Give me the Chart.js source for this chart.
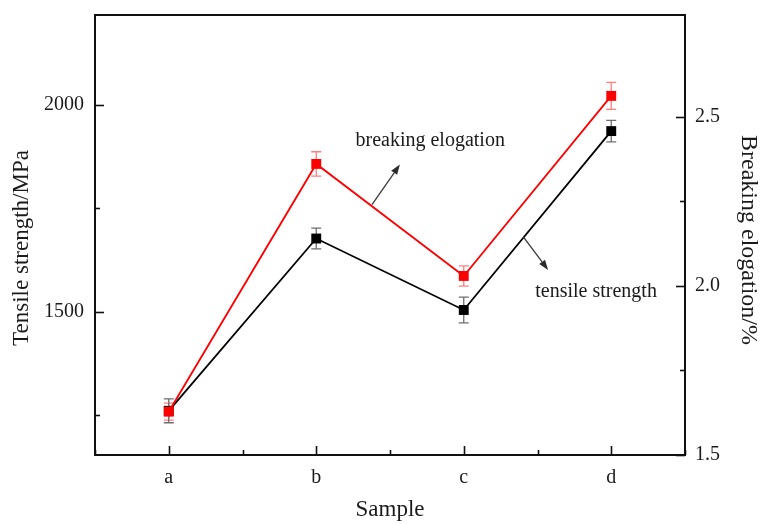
<!DOCTYPE html>
<html>
<head>
<meta charset="utf-8">
<script src="https://cdn.jsdelivr.net/npm/chart.js@4/dist/chart.umd.min.js"></script>
<style>
  html, body { margin: 0; padding: 0; background: #ffffff; }
  #wrap { width: 761px; height: 524px; }
</style>
</head>
<body>
<div id="wrap"><canvas id="c" width="761" height="524"></canvas></div>
<script>
// Samples and measured properties
const samples = ['a', 'b', 'c', 'd'];
const tensileStrength = [1260, 1677, 1504, 1937];      // MPa
const tensileError = [29, 25, 31, 26];
const breakingElongation = [1.628, 2.360, 2.029, 2.561]; // %
const elongationError = [0.025, 0.036, 0.030, 0.040];

// Axis ranges and tick steps
const strengthRange = [1153, 2218];
const strengthMajor = 500, strengthMinor = 250;
const elongationRange = [1.5, 2.8];
const elongationMajor = 0.5, elongationMinor = 0.25;

// Callout labels with their arrows (in data units of the given axis)
const callouts = [
  { text: 'breaking elogation', axis: 'y2', at: [1.266, 2.429], from: [1.378, 2.240], to: [1.567, 2.358] },
  { text: 'tensile strength',   axis: 'y',  at: [2.485, 1548],  from: [2.404, 1681],  to: [2.572, 1601] }
];

const SERIF = '"Liberation Serif", "Times New Roman", serif';
const TEXT = '#1a1a1a';

const isMultiple = (v, step) => Math.abs(v / step - Math.round(v / step)) < 1e-6;

// Vertical error bars with caps, drawn behind the markers
const errorBars = {
  id: 'errorBars',
  beforeDatasetsDraw(chart) {
    const ctx = chart.ctx;
    const xs = chart.scales.x;
    chart.data.datasets.forEach(ds => {
      const ys = chart.scales[ds.yAxisID];
      ctx.save();
      ctx.strokeStyle = ds.errorColor;
      ctx.lineWidth = 1.3;
      ds.data.forEach((p, i) => {
        const e = ds.errors[i];
        const x = xs.getPixelForValue(p.x);
        const yt = ys.getPixelForValue(p.y + e);
        const yb = ys.getPixelForValue(p.y - e);
        ctx.beginPath();
        ctx.moveTo(x, yt); ctx.lineTo(x, yb);
        ctx.moveTo(x - 5, yt); ctx.lineTo(x + 5, yt);
        ctx.moveTo(x - 5, yb); ctx.lineTo(x + 5, yb);
        ctx.stroke();
      });
      ctx.restore();
    });
  }
};

// Closed frame with inward tick marks on the bottom, left and right axes
const frameTicks = {
  id: 'frameTicks',
  afterDraw(chart) {
    const { ctx, chartArea: a } = chart;
    const { x, y, y2 } = chart.scales;
    ctx.save();
    ctx.strokeStyle = '#111';
    ctx.lineWidth = 1.6;
    x.ticks.forEach(t => {
      if (!isMultiple(t.value, 0.5)) return;
      const px = Math.round(x.getPixelForValue(t.value)) + 0.5;
      const len = Number.isInteger(t.value) ? 9 : 5;
      ctx.beginPath(); ctx.moveTo(px, a.bottom); ctx.lineTo(px, a.bottom - len); ctx.stroke();
    });
    y.ticks.forEach(t => {
      if (!isMultiple(t.value, strengthMinor)) return;
      const py = Math.round(y.getPixelForValue(t.value)) + 0.5;
      const len = isMultiple(t.value, strengthMajor) ? 9 : 5;
      ctx.beginPath(); ctx.moveTo(a.left, py); ctx.lineTo(a.left + len, py); ctx.stroke();
    });
    y2.ticks.forEach(t => {
      if (!isMultiple(t.value, elongationMinor)) return;
      const py = Math.round(y2.getPixelForValue(t.value)) + 0.5;
      const len = isMultiple(t.value, elongationMajor) ? 9 : 5;
      ctx.beginPath(); ctx.moveTo(a.right, py); ctx.lineTo(a.right - len, py); ctx.stroke();
    });
    ctx.lineWidth = 2;
    ctx.strokeRect(a.left, a.top, a.right - a.left, a.bottom - a.top);
    ctx.restore();
  }
};

// Rotated titles for the two value axes, set a little below the plot's middle
const sideTitles = {
  id: 'sideTitles',
  afterDraw(chart) {
    const { ctx, chartArea: a, width } = chart;
    const mid = (a.top + a.bottom) / 2;
    ctx.save();
    ctx.fillStyle = TEXT;
    ctx.textAlign = 'center';
    ctx.textBaseline = 'middle';
    ctx.font = '23px ' + SERIF;
    ctx.translate(22, mid + 13);
    ctx.rotate(-Math.PI / 2);
    ctx.fillText('Tensile strength/MPa', 0, 0);
    ctx.restore();
    ctx.save();
    ctx.fillStyle = TEXT;
    ctx.textAlign = 'center';
    ctx.textBaseline = 'middle';
    ctx.font = '24px ' + SERIF;
    ctx.translate(width - 13, mid + 5);
    ctx.rotate(Math.PI / 2);
    ctx.fillText('Breaking elogation/%', 0, 0);
    ctx.restore();
  }
};

// Callout text and arrows
const calloutPlugin = {
  id: 'callouts',
  afterDatasetsDraw(chart) {
    const ctx = chart.ctx;
    const xs = chart.scales.x;
    callouts.forEach(c => {
      const ys = chart.scales[c.axis];
      const fx = xs.getPixelForValue(c.from[0]), fy = ys.getPixelForValue(c.from[1]);
      const tx = xs.getPixelForValue(c.to[0]),   ty = ys.getPixelForValue(c.to[1]);
      const ang = Math.atan2(ty - fy, tx - fx);
      const head = 10, half = 3.6;
      ctx.save();
      ctx.strokeStyle = '#3a3a3a';
      ctx.fillStyle = '#2a2a2a';
      ctx.lineWidth = 1.3;
      ctx.beginPath();
      ctx.moveTo(fx, fy);
      ctx.lineTo(tx - head * Math.cos(ang), ty - head * Math.sin(ang));
      ctx.stroke();
      ctx.beginPath();
      ctx.moveTo(tx, ty);
      ctx.lineTo(tx - head * Math.cos(ang) + half * Math.sin(ang), ty - head * Math.sin(ang) - half * Math.cos(ang));
      ctx.lineTo(tx - head * Math.cos(ang) - half * Math.sin(ang), ty - head * Math.sin(ang) + half * Math.cos(ang));
      ctx.closePath();
      ctx.fill();
      ctx.fillStyle = TEXT;
      ctx.font = '20px ' + SERIF;
      ctx.textAlign = 'left';
      ctx.textBaseline = 'middle';
      ctx.fillText(c.text, xs.getPixelForValue(c.at[0]), ys.getPixelForValue(c.at[1]));
      ctx.restore();
    });
  }
};

const toPoints = vals => vals.map((v, i) => ({ x: i, y: v }));

// Fix an axis box size and drop the extra room reserved for end labels
const fixedVertical = w => s => { s.width = w; s.paddingTop = 0; s.paddingBottom = 0; };

new Chart(document.getElementById('c'), {
  type: 'line',
  data: {
    datasets: [
      {
        label: 'breaking elogation',
        data: toPoints(breakingElongation),
        errors: elongationError,
        errorColor: '#ff7f7f',
        yAxisID: 'y2',
        borderColor: '#ff0000',
        backgroundColor: '#ff0000',
        borderWidth: 1.8,
        pointStyle: 'rect',
        pointRadius: 7,
        pointBorderWidth: 0,
        tension: 0,
        order: 0
      },
      {
        label: 'tensile strength',
        data: toPoints(tensileStrength),
        errors: tensileError,
        errorColor: '#6e6e6e',
        yAxisID: 'y',
        borderColor: '#000000',
        backgroundColor: '#000000',
        borderWidth: 1.8,
        pointStyle: 'rect',
        pointRadius: 7,
        pointBorderWidth: 0,
        tension: 0,
        order: 1
      }
    ]
  },
  options: {
    responsive: false,
    animation: false,
    devicePixelRatio: 1,
    layout: { padding: { top: 15, left: 0, right: 0, bottom: 0 } },
    plugins: { legend: { display: false }, tooltip: { enabled: false } },
    scales: {
      x: {
        type: 'linear',
        min: -0.5,
        max: 3.5,
        grid: { display: false, drawTicks: false },
        border: { display: false },
        ticks: {
          stepSize: 0.5,
          autoSkip: false,
          maxRotation: 0,
          padding: 11,
          color: TEXT,
          font: { family: SERIF, size: 20 },
          callback: v => Number.isInteger(v) ? samples[v] : ''
        },
        title: {
          display: true,
          text: 'Sample',
          color: TEXT,
          font: { family: SERIF, size: 23 },
          padding: { top: 0, bottom: 0 }
        },
        afterFit: s => { s.height = 69; s.paddingLeft = 0; s.paddingRight = 0; }
      },
      y: {
        type: 'linear',
        position: 'left',
        min: strengthRange[0],
        max: strengthRange[1],
        grid: { display: false, drawTicks: false },
        border: { display: false },
        ticks: {
          stepSize: strengthMinor,
          autoSkip: false,
          padding: 11,
          color: TEXT,
          font: { family: SERIF, size: 20 },
          callback: v => isMultiple(v, strengthMajor) ? String(v) : ''
        },
        title: { display: false },
        afterFit: fixedVertical(95)
      },
      y2: {
        type: 'linear',
        position: 'right',
        min: elongationRange[0],
        max: elongationRange[1],
        grid: { display: false, drawTicks: false },
        border: { display: false },
        ticks: {
          stepSize: elongationMinor,
          autoSkip: false,
          padding: 10,
          color: TEXT,
          font: { family: SERIF, size: 20 },
          callback: v => isMultiple(v, elongationMajor) ? v.toFixed(1) : ''
        },
        title: { display: false },
        afterFit: fixedVertical(76)
      }
    }
  },
  plugins: [errorBars, frameTicks, sideTitles, calloutPlugin]
});
</script>
</body>
</html>
